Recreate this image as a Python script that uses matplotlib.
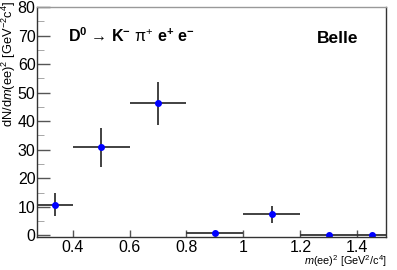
#!/usr/bin/env python3

import matplotlib
matplotlib.use("Agg")
import matplotlib.pyplot as plt
from matplotlib.ticker import MultipleLocator

# bin edges in m(ee)^2 and the content of each bin
bin_lo = [0.275, 0.4, 0.6, 0.8, 1.0, 1.2, 1.4]
bin_hi = [0.4, 0.6, 0.8, 1.0, 1.2, 1.4, 1.5]
counts = [10.8, 30.8, 46.3, 0.8, 7.4, 0.1, 0.1]
errors = [3.9, 6.7, 7.5, 0.0, 3.0, 0.0, 0.0]


def plot_spectrum():
    plt.rcParams["font.family"] = ["Liberation Sans", "DejaVu Sans"]
    plt.rcParams["mathtext.fontset"] = "custom"
    plt.rcParams["mathtext.rm"] = "Liberation Sans"
    plt.rcParams["mathtext.it"] = "Liberation Sans:italic"
    plt.rcParams["mathtext.bf"] = "Liberation Sans:bold"

    fig = plt.figure(figsize=(3.97, 2.70), dpi=100)
    ax = fig.add_axes([0.093, 0.121, 0.879, 0.853])

    x = [(lo + hi) / 2 for lo, hi in zip(bin_lo, bin_hi)]
    xerr = [(hi - lo) / 2 for lo, hi in zip(bin_lo, bin_hi)]
    ax.errorbar(x, counts, xerr=xerr, yerr=errors, fmt="o", color="#333333",
                ecolor="#333333", elinewidth=1.3, markersize=4,
                markerfacecolor="#0000ff", markeredgecolor="#0000ff", capsize=0)

    ax.set_xlim(0.275, 1.5)
    ax.set_ylim(-0.7, 80)
    ax.yaxis.set_major_locator(MultipleLocator(10))
    ax.yaxis.set_minor_locator(MultipleLocator(5))
    ax.set_xticks([0.4, 0.6, 0.8, 1.0, 1.2, 1.4])
    ax.set_xticklabels(["0.4", "0.6", "0.8", "1", "1.2", "1.4"])
    ax.tick_params(axis="both", which="major", direction="in", labelsize=11.5,
                   color="#555555", width=1)
    ax.tick_params(axis="y", which="major", length=9, pad=1)
    ax.tick_params(axis="x", which="major", length=5, pad=2)
    ax.tick_params(axis="y", which="minor", direction="in", length=5,
                   color="#999999")
    for s in ax.spines.values():
        s.set_color("#333333")
        s.set_linewidth(1)
    ax.spines["top"].set_color("#999999")

    fig.text(0.023, 0.997, r"dN/d$\mathit{m}$(ee)$^{2}$ [GeV$^{-2}$c$^{4}$]",
             fontsize=9.3, rotation=90, ha="center", va="top")
    fig.text(0.975, 0.002, r"$\mathit{m}$(ee)$^{2}$ [GeV$^{2}$/c$^{4}$]",
             fontsize=7.8, ha="right", va="bottom")

    title = (r"$\mathbf{D^{0}}$ → $\mathbf{K^{-}}$ "
             r"π$^{+}$ $\mathbf{e^{+}}$ $\mathbf{e^{-}}$")
    ax.text(0.088, 0.85, title, transform=ax.transAxes, fontsize=11.5)
    ax.text(0.802, 0.845, "Belle", transform=ax.transAxes, fontsize=12.5,
            fontweight="bold")

    fig.savefig("out.png", dpi=100)


if __name__ == "__main__":
    plot_spectrum()
